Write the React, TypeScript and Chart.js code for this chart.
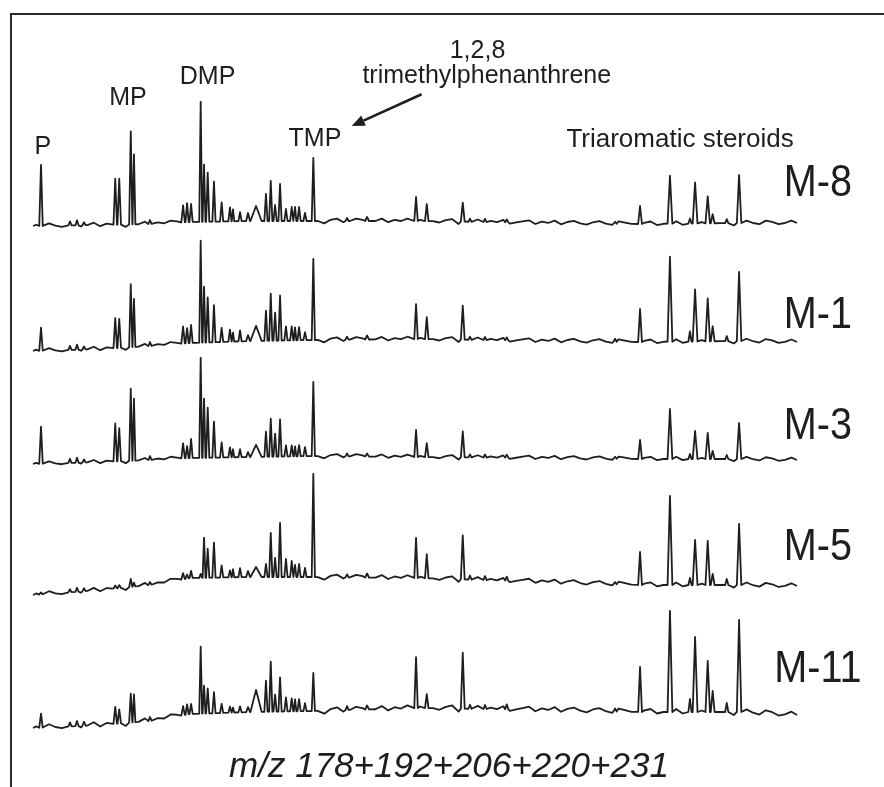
import React, { useEffect, useRef } from 'react';
import { Chart, registerables } from 'chart.js';

Chart.register(...registerables);

// ---------- data ----------
const SAMPLES = ['M-8', 'M-1', 'M-3', 'M-5', 'M-11'];

// retention times (min) of resolved peaks and their half base widths (min)
const PEAK_T = [
  20.5, 22.31, 22.75, 23.19, 25.14, 25.39, 26.11, 26.31, 27.31, 29.38,
  29.63, 29.88, 30.48, 30.69, 30.92, 31.31, 31.79, 32.31, 32.5, 32.94,
  33.44, 33.94, 34.56, 34.86, 35.13, 35.44, 35.81, 36.17, 36.38, 36.63,
  37.0, 37.52, 39.63, 40.88, 43.94, 44.61, 46.86, 47.31, 48.25, 49.61,
  56.38, 57.94, 59.81, 61.06, 61.38, 62.17, 62.48, 63.36, 64.13,
];
const PEAK_W = [
  0.11, 0.1, 0.1, 0.1, 0.11, 0.11, 0.1, 0.09, 0.1, 0.11,
  0.1, 0.1, 0.09, 0.09, 0.1, 0.1, 0.1, 0.1, 0.08, 0.1,
  0.12, 0.35, 0.1, 0.1, 0.1, 0.1, 0.1, 0.1, 0.08, 0.1,
  0.1, 0.1, 0.1, 0.12, 0.11, 0.11, 0.12, 0.1, 0.1, 0.1,
  0.1, 0.12, 0.15, 0.1, 0.15, 0.14, 0.12, 0.1, 0.14,
];

// peak heights above baseline, per sample
const H_M8 = [
  61, 4, 5, 3, 46, 46, 93, 70, 4, 17,
  19, 18, 120, 57, 49, 40, 19, 14, 12, 9,
  8, 15, 27, 40, 16, 37, 12, 14, 14, 14,
  8, 63, 3, 4, 24, 17, 19, 3, 3, 3,
  2, 18, 48, 5, 41, 27, 9, 4, 48,
];
const H_M1 = [
  23, 4, 5, 3, 30, 29, 63, 48, 4, 17,
  15, 18, 102, 56, 45, 37, 14, 12, 9, 11,
  6, 15, 30, 47, 28, 45, 14, 14, 13, 13,
  8, 81, 3, 4, 35, 22, 34, 3, 3, 3,
  3, 33, 85, 10, 52, 43, 15, 5, 69,
];
const H_M3 = [
  37, 4, 5, 3, 38, 33, 72, 62, 4, 15,
  12, 19, 100, 59, 50, 36, 15, 10, 8, 8,
  5, 12, 25, 38, 23, 37, 11, 11, 10, 11,
  9, 74, 3, 3, 27, 14, 26, 3, 3, 3,
  2, 19, 50, 5, 28, 26, 8, 4, 36,
];
const H_M5 = [
  2, 3, 4, 3, 3, 3, 8, 4, 3, 6,
  4, 7, 4, 40, 29, 35, 12, 7, 8, 9,
  6, 10, 13, 44, 19, 54, 18, 16, 12, 13,
  9, 103, 3, 4, 40, 24, 44, 4, 4, 4,
  2, 33, 89, 7, 45, 44, 11, 6, 61,
];
const H_M11 = [
  14, 4, 5, 4, 17, 14, 29, 28, 4, 9,
  10, 10, 67, 28, 25, 21, 9, 6, 5, 6,
  5, 22, 31, 50, 17, 34, 14, 13, 12, 12,
  8, 38, 4, 4, 51, 14, 56, 4, 4, 5,
  3, 45, 101, 13, 75, 51, 21, 9, 92,
];

// baseline level (stacked offset units) at knot retention times
const BASE_T = [20, 24.19, 27.31, 29.81, 33.56, 37.5, 44.19, 52.31, 57.94, 64.19, 67.75];
const BASE_M8 = [561, 562, 563, 565, 566, 566, 566, 564, 563, 564, 564];
const BASE_M1 = [436, 438, 441, 444, 446, 447, 448, 446, 445, 446, 445];
const BASE_M3 = [323, 325, 327, 329, 330, 331, 330, 329, 328, 328, 327];
const BASE_M5 = [192, 197, 202, 209, 210, 210, 209, 205, 202, 202, 201];
const BASE_M11 = [59, 62, 66, 73, 75, 76, 79, 77, 75, 75, 72];

// baseline "grass" read as small deviations every 0.4 min, from 20.2 min
const GRASS = [
  1, -1, 2, 0, -1, 1, 2, -1, 0, 2, -1, 1, 2, 0, -2, 1, 0, 2, -1, 1,
  0, 2, 1, -1, 2, 0, 1, -2, 1, 2, -1, 0, 2, 1, -1, 2, 0, -1, 1, 2,
  0, -1, 2, 1, 0, -2, 1, 2, -1, 0, 2, 1, -1, 0, 2, -1, 1, 0, 2, -1,
  1, 2, 0, -1, 1, 2, -2, 0, 1, 2, -1, 1, 0, 2, -1, 0, 1, 2, -1, 1,
  0, 2, -1, 1, 2, 0, -1, 1, 2, 0, -1, 2, 1, 0, -1, 1, 2, -1, 0, 1,
  2, -1, 0, 2, 1, -1, 1, 0, 2, -2, 1, 2, 0, -1, 2, 1, -1, 0, 2, 1,
];
const GRASS_T0 = 20.2;
const GRASS_STEP = 0.4;
const GRASS_AMP = [1.2, 1.2, 1.1, 1.3, 1.5];

const HEIGHTS = [H_M8, H_M1, H_M3, H_M5, H_M11];
const BASES = [BASE_M8, BASE_M1, BASE_M3, BASE_M5, BASE_M11];

// annotation texts
const PEAK_LABEL_TEXT = ['P', 'MP', 'DMP', 'TMP'];
const PEAK_LABEL_T = [20.62, 25.94, 30.91, 37.62];
const PEAK_LABEL_V = [633, 682, 703, 641];
const NOTE_LINES = ['1,2,8', 'trimethylphenanthrene'];
const NOTE_T = [47.78, 48.36];
const NOTE_V = [729, 704];
const ARROW_FROM = { t: 44.29, v: 692.7 };
const ARROW_TO = { t: 39.92, v: 661 };
const TAS_LABEL = { text: 'Triaromatic steroids', t: 60.44, v: 640.3 };
const SAMPLE_LABEL_T = 69.06;
const SAMPLE_LABEL_V = [591, 459, 348, 227, 105.5];
const AXIS_TITLE = { text: 'm/z 178+192+206+220+231', t: 46, v: 10 };

const T_MIN = 20;
const T_MAX = 67.75;
const INK = '#1f1d1e';
const FONT = '"Liberation Sans", Arial, Helvetica, sans-serif';

function baseAt(base: number[], t: number): number {
  if (t <= BASE_T[0]) return base[0];
  for (let i = 1; i < BASE_T.length; i++) {
    if (t <= BASE_T[i]) {
      const f = (t - BASE_T[i - 1]) / (BASE_T[i] - BASE_T[i - 1]);
      return base[i - 1] + f * (base[i] - base[i - 1]);
    }
  }
  return base[base.length - 1];
}

function buildTrace(k: number) {
  const h = HEIGHTS[k];
  const base = BASES[k];
  const pts: { x: number; y: number }[] = [];
  pts.push({ x: T_MIN, y: base[0] });
  pts.push({ x: T_MAX, y: base[base.length - 1] });
  for (let i = 0; i < GRASS.length; i++) {
    const t = GRASS_T0 + i * GRASS_STEP;
    if (t <= T_MIN || t >= T_MAX) continue;
    let clash = false;
    for (let j = 0; j < PEAK_T.length; j++) {
      if (Math.abs(t - PEAK_T[j]) < PEAK_W[j] + 0.06) { clash = true; break; }
    }
    if (!clash) pts.push({ x: t, y: baseAt(base, t) + GRASS[i] * GRASS_AMP[k] });
  }
  for (let j = 0; j < PEAK_T.length; j++) {
    const t = PEAK_T[j];
    const w = PEAK_W[j];
    pts.push({ x: t - w, y: baseAt(base, t - w) });
    pts.push({ x: t, y: baseAt(base, t) + h[j] });
    pts.push({ x: t + w, y: baseAt(base, t + w) });
  }
  pts.sort((a, b) => a.x - b.x);
  return pts;
}

const annotationPlugin = {
  id: 'chromAnnotations',
  afterDatasetsDraw(chart: any) {
    const { ctx } = chart;
    const xs = chart.scales.x;
    const ys = chart.scales.y;
    const px = (t: number) => xs.getPixelForValue(t);
    const py = (v: number) => ys.getPixelForValue(v);
    ctx.save();
    ctx.fillStyle = INK;
    ctx.strokeStyle = INK;
    ctx.textAlign = 'center';
    ctx.textBaseline = 'alphabetic';

    ctx.font = `25px ${FONT}`;
    PEAK_LABEL_TEXT.forEach((s, i) => ctx.fillText(s, px(PEAK_LABEL_T[i]), py(PEAK_LABEL_V[i])));
    NOTE_LINES.forEach((s, i) => ctx.fillText(s, px(NOTE_T[i]), py(NOTE_V[i])));

    ctx.font = `26px ${FONT}`;
    ctx.fillText(TAS_LABEL.text, px(TAS_LABEL.t), py(TAS_LABEL.v));

    // arrow
    const x1 = px(ARROW_FROM.t), y1 = py(ARROW_FROM.v);
    const x2 = px(ARROW_TO.t), y2 = py(ARROW_TO.v);
    const ang = Math.atan2(y2 - y1, x2 - x1);
    const hl = 13, hw = 5.5;
    const bx = x2 - hl * Math.cos(ang), by = y2 - hl * Math.sin(ang);
    ctx.lineWidth = 2.6;
    ctx.beginPath();
    ctx.moveTo(x1, y1);
    ctx.lineTo(bx, by);
    ctx.stroke();
    ctx.beginPath();
    ctx.moveTo(x2, y2);
    ctx.lineTo(bx + hw * Math.sin(ang), by - hw * Math.cos(ang));
    ctx.lineTo(bx - hw * Math.sin(ang), by + hw * Math.cos(ang));
    ctx.closePath();
    ctx.fill();

    // sample labels
    ctx.font = `44px ${FONT}`;
    SAMPLES.forEach((s, i) => {
      ctx.save();
      ctx.translate(px(SAMPLE_LABEL_T), py(SAMPLE_LABEL_V[i]));
      ctx.scale(0.9, 1);
      ctx.fillText(s, 0, 0);
      ctx.restore();
    });

    // axis title (italic)
    ctx.font = `italic 35px ${FONT}`;
    ctx.fillText(AXIS_TITLE.text, px(AXIS_TITLE.t), py(AXIS_TITLE.v));
    ctx.restore();
  },
};

export default function App() {
  const ref = useRef<HTMLCanvasElement | null>(null);
  useEffect(() => {
    document.body.style.margin = '0';
    const canvas = ref.current;
    if (!canvas) return;
    const chart = new Chart(canvas, {
      type: 'line',
      data: {
        datasets: SAMPLES.map((name, k) => ({
          label: name,
          data: buildTrace(k),
          borderColor: INK,
          borderWidth: 1.8,
          borderJoinStyle: 'round' as const,
          pointRadius: 0,
          tension: 0,
          fill: false,
          clip: false as any,
        })),
      },
      options: {
        responsive: false,
        animation: false,
        devicePixelRatio: 1,
        layout: { padding: { left: 33, right: 87, top: 0, bottom: 0 } },
        scales: {
          x: { type: 'linear', min: T_MIN, max: T_MAX, display: false },
          y: { type: 'linear', min: 0, max: 787, display: false },
        },
        plugins: {
          legend: { display: false },
          tooltip: { enabled: false },
        },
        events: [],
      },
      plugins: [annotationPlugin],
    });
    return () => chart.destroy();
  }, []);

  return (
    <div style={{ position: 'relative', width: 884, height: 787, background: '#fff', overflow: 'hidden' }}>
      <div
        style={{
          position: 'absolute',
          left: 10,
          top: 13,
          right: -4,
          bottom: -4,
          borderTop: '2px solid #2a2a2a',
          borderLeft: '2px solid #2a2a2a',
        }}
      />
      <canvas ref={ref} width={884} height={787} style={{ position: 'absolute', left: 0, top: 0 }} />
    </div>
  );
}
